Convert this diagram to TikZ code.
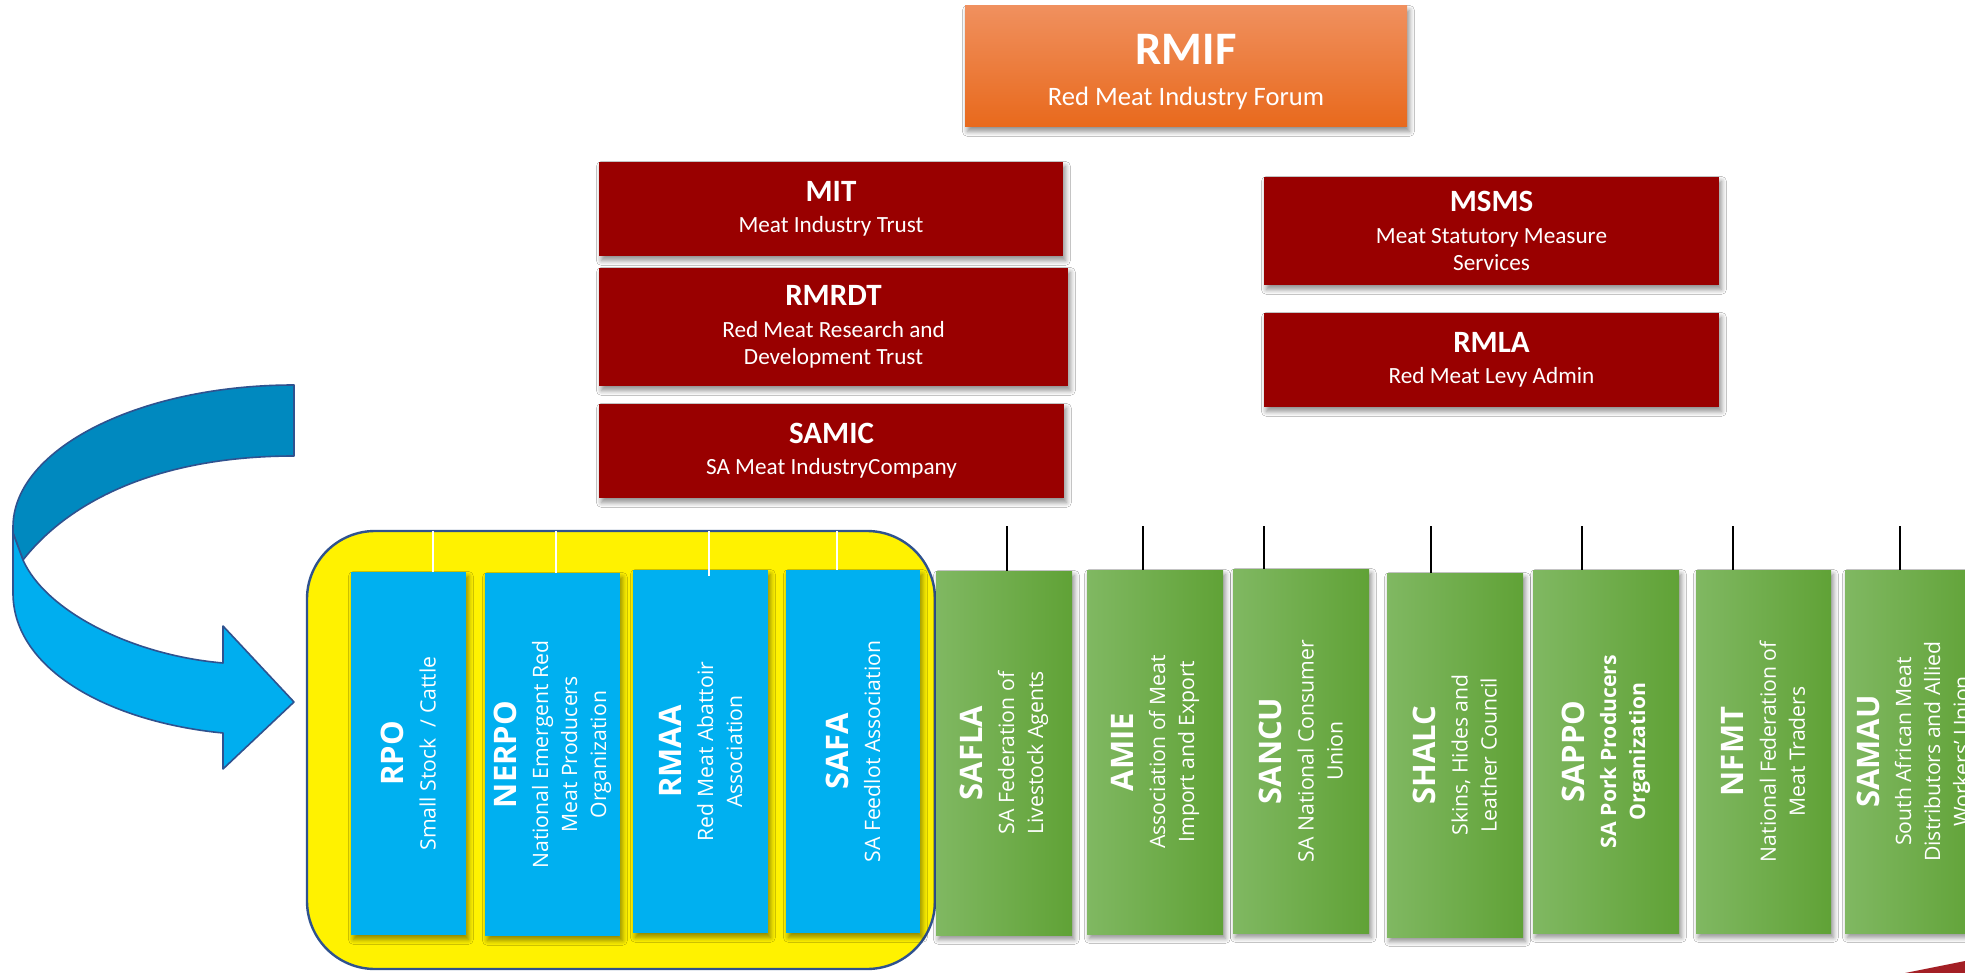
\documentclass[tikz,border=0pt]{standalone}
\usepackage{fontspec}
\setmainfont{Carlito}
\newfontfamily\osans{Open Sans}
\usetikzlibrary{shadows.blur}
\definecolor{boxred}{HTML}{990000}
\definecolor{boxblue}{HTML}{00B0F0}
\definecolor{gleft}{HTML}{80B862}
\definecolor{gright}{HTML}{60A236}
\definecolor{otop}{HTML}{F0905E}
\definecolor{obot}{HTML}{E8691C}
\definecolor{arrdark}{HTML}{0089BF}
\definecolor{arrlight}{HTML}{00AEEF}
\definecolor{outl}{HTML}{2F528F}
\definecolor{sliverred}{HTML}{A31F25}
\tikzset{
  sz/.style 2 args={minimum width=#1*0.5pt,minimum height=#2*0.5pt},
  shad/.style={blur shadow={shadow xshift=1.2pt,shadow yshift=-2.2pt,shadow blur radius=2.5pt,shadow blur steps=6,shadow opacity=45}},
  redbox/.style={fill=boxred,text=white,inner sep=0pt,outer sep=0pt,align=center,shad,font=\fontsize{11.6}{13.8}\selectfont},
  orangebox/.style={top color=otop,bottom color=obot,inner sep=0pt,outer sep=0pt,shad},
  toptext/.style={text=white,inner sep=0pt,align=center,font=\fontsize{13.3}{16}\selectfont},
  bluebox/.style={fill=boxblue,inner sep=0pt,outer sep=0pt,shad},
  greenbox/.style={left color=gleft,right color=gright,inner sep=0pt,outer sep=0pt,shad},
  vtext/.style={rotate=90,text=white,align=center,inner sep=0pt,font=\osans\fontsize{10.6}{14.5}\selectfont},
  wline/.style={draw=white,line width=1.4pt},
  bline/.style={draw=black,line width=1.2pt},
  arrowband/.style={draw=outl,line width=0.8pt,line join=round},
}
\newcommand{\ttltop}[1]{{\bfseries\fontsize{15.5}{15.5}\selectfont #1}}
\newcommand{\ttlv}[1]{{\bfseries\fontsize{15.5}{15.5}\selectfont #1}}
\begin{document}
\begin{tikzpicture}[x=0.5pt,y=-0.5pt]
\useasboundingbox (0,0) rectangle (1965,973);
\clip (0,0) rectangle (1965,973);
\fill[white] (0,0) rectangle (1965,973);

% curved arrow
\path[arrowband,fill=arrdark] (294,385) .. controls (139,385) and (13,449) .. (13,527)
  -- (13,533) -- (23,560) .. controls (70,500) and (160,456) .. (294,456) -- cycle;
\path[arrowband,fill=arrlight] (13,533) -- (13,593) .. controls (13,670) and (110,722) .. (223,733)
  -- (223,769) -- (294,702) -- (223,626) -- (223,663)
  .. controls (130,655) and (45,610) .. (23,560) -- cycle;

% yellow group
\node[draw=outl,line width=1.2pt,fill=yellow,rounded corners=34pt,inner sep=0pt,sz={628}{438}] (grp) at (621,750) {};

% blue boxes
\node[bluebox,sz={115}{363}] (rpo) at (408.5,753.5) {};
\node[bluebox,sz={135}{363}] (nerpo) at (552.5,754.5) {};
\node[bluebox,sz={135}{363}] (rmaa) at (700.5,751.5) {};
\node[bluebox,sz={134}{363}] (safa) at (853,751.5) {};
\node[vtext] (rpot) at (rpo) {\ttlv{RPO}\\[1.5pt]Small Stock\ \ / Cattle};
\node[vtext] (nerpot) at (nerpo) {\ttlv{NERPO}\\[1.5pt]National Emergent Red\\Meat Producers\\Organization};
\node[vtext] (rmaat) at (rmaa) {\ttlv{RMAA}\\[1.5pt]Red Meat Abattoir\\Association};
\node[vtext] (safat) at (safa) {\ttlv{SAFA}\\[1.5pt]SA Feedlot Association};

% white connectors
\coordinate (w1) at (433,531);
\coordinate (w2) at (556,531);
\coordinate (w3) at (709,531);
\coordinate (w4) at (837,531);
\draw[wline] (w1) -- (w1 |- rpo.north);
\draw[wline] (w2) -- (w2 |- nerpo.north);
\draw[wline] (w3) -- ([yshift=-3pt]w3 |- rmaa.north);
\draw[wline] (w4) -- (w4 |- safa.north);

% green boxes
\node[greenbox,sz={136}{364}] (safla) at (1004,753) {};
\node[greenbox,sz={136}{364}] (amie) at (1155,752) {};
\node[greenbox,sz={136}{364}] (sancu) at (1301,751) {};
\node[greenbox,sz={136}{364}] (shalc) at (1455,755) {};
\node[greenbox,sz={146}{363}] (sappo) at (1606,751.5) {};
\node[greenbox,sz={135}{363}] (nfmt) at (1763.5,751.5) {};
\node[greenbox,sz={136}{363}] (samau) at (1913,751.5) {};
\node[vtext] (saflat) at (safla) {\ttlv{SAFLA}\\[1.5pt]SA Federation of\\Livestock Agents};
\node[vtext] (amiet) at (amie) {\ttlv{AMIE}\\[1.5pt]Association of Meat\\Import and Export};
\node[vtext] (sancut) at (sancu) {\ttlv{SANCU}\\[1.5pt]SA National Consumer\\Union};
\node[vtext] (shalct) at (shalc) {\ttlv{SHALC}\\[1.5pt]Skins, Hides and\\Leather Council};
\node[vtext] (sappot) at (sappo) {\ttlv{SAPPO}\\[1.5pt]\bfseries SA Pork Producers\\\bfseries Organization};
\node[vtext] (nfmtt) at (nfmt) {\ttlv{NFMT}\\[1.5pt]National Federation of\\Meat Traders};
\node[vtext] (samaut) at (samau) {\ttlv{SAMAU}\\[1.5pt]South African Meat\\Distributors and Allied\\Workers’ Union};

% black connectors
\coordinate (k1) at (1007,526);
\coordinate (k2) at (1143,526);
\coordinate (k3) at (1264,526);
\coordinate (k4) at (1431,526);
\coordinate (k5) at (1582,526);
\coordinate (k6) at (1733,526);
\coordinate (k7) at (1900,526);
\draw[bline] (k1) -- (k1 |- safla.north);
\draw[bline] (k2) -- (k2 |- amie.north);
\draw[bline] (k3) -- (k3 |- sancu.north);
\draw[bline] (k4) -- (k4 |- shalc.north);
\draw[bline] (k5) -- (k5 |- sappo.north);
\draw[bline] (k6) -- (k6 |- nfmt.north);
\draw[bline] (k7) -- (k7 |- samau.north);

% top boxes
\node[orangebox,sz={442}{121}] (rmif) at (1186,66.5) {};
\node[toptext] (rmift) at ([yshift=-3pt]rmif.center) {{\bfseries\fontsize{23.3}{23.3}\selectfont RMIF}\\[4.5pt]Red Meat Industry Forum};
\node[redbox,sz={464}{94}] (mit) at (831,209) {\ttltop{MIT}\\[1.8pt]Meat Industry Trust};
\node[redbox,sz={469}{118}] (rmrdt) at (833.5,327) {\ttltop{RMRDT}\\[2.2pt]Red Meat Research and\\Development Trust};
\node[redbox,sz={465}{94}] (samic) at (831.5,451) {\ttltop{SAMIC}\\[1.8pt]SA Meat IndustryCompany};
\node[redbox,sz={455}{108}] (msms) at (1491.5,231) {\ttltop{MSMS}\\[2.2pt]Meat Statutory Measure\\Services};
\node[redbox,sz={455}{94}] (rmla) at (1491.5,360) {\ttltop{RMLA}\\[1.8pt]Red Meat Levy Admin};

% red sliver bottom right
\fill[sliverred] (1905,973) -- (1965,961) -- (1965,973) -- cycle;
\end{tikzpicture}
\end{document}
